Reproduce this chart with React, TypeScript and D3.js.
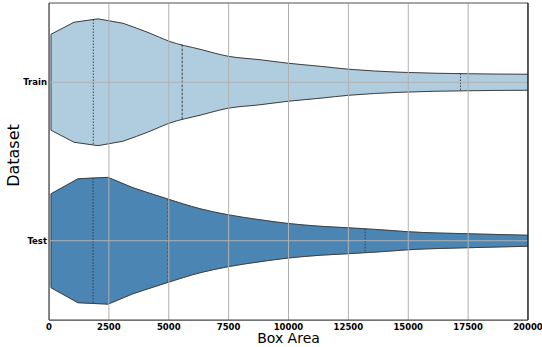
import React from "react";
import * as d3 from "d3";

// Categories (top to bottom)
const datasets = ["Train", "Test"];

// Kernel density profiles: box-area grid points and relative density (max = 1)
const trainGrid = [84, 1044, 2046, 3090, 4217, 5010, 6305, 7474, 8810, 9979, 11315, 12526, 14656, 17500, 20000];
const trainDensity = [0.757, 0.946, 1.0, 0.93, 0.773, 0.647, 0.52, 0.41, 0.355, 0.3, 0.252, 0.205, 0.158, 0.134, 0.126];

const testGrid = [84, 1211, 2463, 3507, 4927, 6305, 7474, 8810, 9979, 11315, 12484, 13821, 15000, 17500, 20000];
const testDensity = [0.741, 0.978, 1.0, 0.836, 0.662, 0.505, 0.41, 0.331, 0.273, 0.229, 0.205, 0.174, 0.142, 0.11, 0.087];

// Quartiles (25%, 50%, 75%)
const trainQuartiles = [1850, 5560, 17180];
const testQuartiles = [1840, 4970, 13200];

const xTicks = [0, 2500, 5000, 7500, 10000, 12500, 15000, 17500, 20000];

const colors = ["#b0cde0", "#4a85b4"];

const W = 542;
const H = 347;
const left = 49;
const right = 528;
const top = 3;
const bottom = 320;

type P = { g: number; d: number };

export default function App() {
  const x = d3.scaleLinear().domain([0, 20000]).range([left, right]);
  const y = d3.scaleBand().domain(datasets).range([top, bottom]).paddingInner(0).paddingOuter(0);
  const center = (c: string) => (y(c) as number) + y.bandwidth() / 2;
  const halfWidth = d3.scaleLinear().domain([0, 1]).range([0, y.bandwidth() * 0.4]);

  const violins = [
    { name: "Train", grid: trainGrid, dens: trainDensity, q: trainQuartiles, color: colors[0], head: 4 },
    { name: "Test", grid: testGrid, dens: testDensity, q: testQuartiles, color: colors[1], head: 4 },
  ];

  const font = "DejaVu Sans, sans-serif";

  return (
    <svg width={W} height={H} style={{ position: "absolute", left: 0, top: 0 }}>
      <defs>
        <clipPath id="plot-clip">
          <rect x={left} y={top} width={right - left} height={bottom - top} />
        </clipPath>
      </defs>
      <rect x={0} y={0} width={W} height={H} fill="#fff" />
      <g clipPath="url(#plot-clip)">
        {violins.map((v) => {
          const cy = center(v.name);
          const pts: P[] = v.grid.map((g, i) => ({ g, d: v.dens[i] }));
          // upper edge: straight segments near the peak, smooth tail
          const edge = (curve: d3.CurveFactory) =>
            d3
              .line<P>()
              .x((p) => x(p.g))
              .y((p) => cy - halfWidth(p.d))
              .curve(curve);
          const headPath = edge(d3.curveLinear)(pts.slice(0, v.head)) as string;
          const tailPath = (edge(d3.curveMonotoneX)(pts.slice(v.head - 1)) as string).replace(/^M[^A-Za-z]*/, "");
          const upper = headPath + tailPath;
          const first = pts[0];
          const last = pts[pts.length - 1];
          const halfShape = `${upper}L${x(last.g)},${cy}L${x(first.g)},${cy}Z`;
          const mirror = `translate(0,${2 * cy}) scale(1,-1)`;
          const interp = (val: number) => {
            const i = d3.bisectLeft(v.grid, val);
            if (i <= 0) return v.dens[0];
            if (i >= v.grid.length) return v.dens[v.dens.length - 1];
            const t = (val - v.grid[i - 1]) / (v.grid[i] - v.grid[i - 1]);
            return v.dens[i - 1] + t * (v.dens[i] - v.dens[i - 1]);
          };
          return (
            <g key={v.name}>
              <path d={halfShape} fill={v.color} stroke={v.color} strokeWidth={0.5} />
              <path d={halfShape} fill={v.color} stroke={v.color} strokeWidth={0.5} transform={mirror} />
              <path d={upper} fill="none" stroke="#3f3f3f" strokeWidth={1} strokeLinejoin="round" />
              <path d={upper} fill="none" stroke="#3f3f3f" strokeWidth={1} strokeLinejoin="round" transform={mirror} />
              <line
                x1={x(first.g)}
                x2={x(first.g)}
                y1={cy - halfWidth(first.d)}
                y2={cy + halfWidth(first.d)}
                stroke="#3f3f3f"
                strokeWidth={1}
              />
              {v.q.map((qv, i) => {
                const hw = halfWidth(interp(qv));
                return (
                  <line
                    key={i}
                    x1={x(qv)}
                    x2={x(qv)}
                    y1={cy - hw}
                    y2={cy + hw}
                    stroke="#333"
                    strokeWidth={0.9}
                    strokeDasharray={i === 1 ? "2.5,1.5" : "1.5,1.5"}
                  />
                );
              })}
            </g>
          );
        })}
        {/* grid lines over the violins */}
        {xTicks.map((t) => (
          <line key={t} x1={x(t)} x2={x(t)} y1={top} y2={bottom} stroke="#b0b0b0" strokeWidth={1} />
        ))}
        {datasets.map((c) => (
          <line key={c} x1={left} x2={right} y1={center(c)} y2={center(c)} stroke="#b0b0b0" strokeWidth={1} />
        ))}
      </g>
      {/* spines */}
      <line x1={left} x2={right} y1={top} y2={top} stroke="#888" strokeWidth={1.5} />
      <line x1={right} x2={right} y1={top} y2={bottom} stroke="#000" strokeWidth={1.25} />
      <line x1={left} x2={left} y1={top} y2={bottom} stroke="#444" strokeWidth={1.25} />
      <line x1={left} x2={right} y1={bottom} y2={bottom} stroke="#444" strokeWidth={1.25} />
      {/* tick labels */}
      {xTicks.map((t) => (
        <text key={t} x={x(t)} y={329.5} textAnchor="middle" fontFamily={font} fontWeight="bold" fontSize={8.5} fill="#000">
          {String(t)}
        </text>
      ))}
      {datasets.map((c) => (
        <text key={c} x={47} y={center(c)} textAnchor="end" dominantBaseline="central" fontFamily={font} fontWeight="bold" fontSize={8.5} fill="#000">
          {c}
        </text>
      ))}
      {/* axis titles */}
      <text x={288.5} y={343} textAnchor="middle" fontFamily={font} fontSize={14} fill="#000">
        Box Area
      </text>
      <text
        transform={`translate(19, 155.5) rotate(-90)`}
        textAnchor="middle"
        fontFamily={font}
        fontSize={16}
        fill="#000"
      >
        Dataset
      </text>
    </svg>
  );
}
